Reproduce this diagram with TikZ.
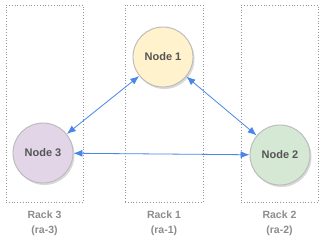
\documentclass[tikz,border=0pt]{standalone}
\usepackage{fontspec}
\setmainfont{Liberation Sans}
\usetikzlibrary{positioning, shadows, arrows.meta}
\definecolor{rackline}{RGB}{150,150,150}
\definecolor{racktext}{RGB}{140,140,140}
\definecolor{nodetext}{RGB}{85,85,85}
\definecolor{nodeline}{RGB}{185,185,185}
\definecolor{linkblue}{RGB}{74,134,232}
\definecolor{fillone}{RGB}{255,242,204}
\definecolor{filltwo}{RGB}{213,232,212}
\definecolor{fillthree}{RGB}{225,213,231}
\tikzset{
  rack/.style={rectangle, draw=rackline, dotted, line width=0.8pt, minimum width=77pt, minimum height=197pt, inner sep=0pt},
  racklabel/.style={font=\fontsize{10.5}{15}\selectfont\bfseries\color{racktext}, align=center, inner sep=0pt},
  server/.style={circle, draw=nodeline, line width=0.9pt, minimum size=60pt, inner sep=0pt,
    font=\fontsize{11}{13}\selectfont\bfseries\color{nodetext},
    drop shadow={shadow xshift=1.5pt, shadow yshift=-2pt, opacity=0.25, fill=black!60}},
  link/.style={draw=linkblue, line width=0.8pt, {Latex[length=9pt,width=7pt]}-{Latex[length=9pt,width=7pt]}},
}
\begin{document}
\begin{tikzpicture}[x=1pt, y=-1pt]
\useasboundingbox (0,0) rectangle (323,247);
% racks
\node[rack] (rackc) at (44.5,103.5) {};
\node[rack, minimum width=78pt] (racka) at (164,103.5) {};
\node[rack] (rackb) at (279.5,103.5) {};
\node[racklabel, below=8.5pt of rackc] (labc) {Rack 3\\(ra-3)};
\node[racklabel, below=8.5pt of racka] (laba) {Rack 1\\(ra-1)};
\node[racklabel, below=8.5pt of rackb] (labb) {Rack 2\\(ra-2)};
% servers
\node[server, fill=fillone] (nodea) at (163,57) {Node 1};
\node[server, fill=filltwo] (nodeb) at (280,155) {Node 2};
\node[server, fill=fillthree] (nodec) at (43,153) {Node 3};
% links
\draw[link] (nodec) -- (nodea);
\draw[link] (nodea) -- (nodeb);
\draw[link] (nodec) -- (nodeb);
\end{tikzpicture}
\end{document}
